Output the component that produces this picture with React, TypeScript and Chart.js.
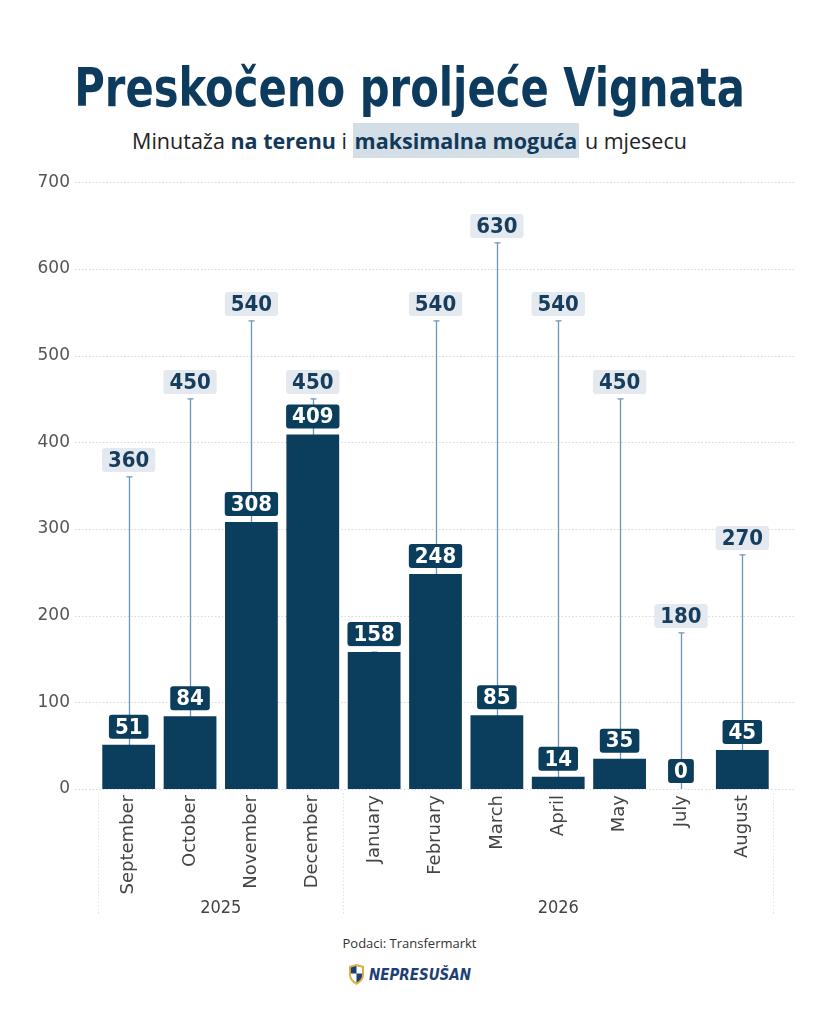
import React, { useEffect, useRef } from "react";
import { Chart, registerables } from "chart.js";

Chart.register(...registerables);

const months = ["September", "October", "November", "December", "January", "February", "March", "April", "May", "July", "August"];
const years = ["2025", "2025", "2025", "2025", "2026", "2026", "2026", "2026", "2026", "2026", "2026"];
const minutesPlayed = [51, 84, 308, 409, 158, 248, 85, 14, 35, 0, 45];
const maxMinutes = [360, 450, 540, 450, 158, 540, 630, 540, 450, 180, 270];
const yTicks = [0, 100, 200, 300, 400, 500, 600, 700];

const NAVY = "#0b3d5c";
const LINE = "#6b96b6";
const LIGHT = "#e3e9ee";
const DIN = "'DejaVu Sans', sans-serif";

function roundRect(ctx: CanvasRenderingContext2D, x: number, y: number, w: number, h: number, r: number) {
  ctx.beginPath();
  ctx.moveTo(x + r, y);
  ctx.lineTo(x + w - r, y);
  ctx.quadraticCurveTo(x + w, y, x + w, y + r);
  ctx.lineTo(x + w, y + h - r);
  ctx.quadraticCurveTo(x + w, y + h, x + w - r, y + h);
  ctx.lineTo(x + r, y + h);
  ctx.quadraticCurveTo(x, y + h, x, y + h - r);
  ctx.lineTo(x, y + r);
  ctx.quadraticCurveTo(x, y, x + r, y);
  ctx.closePath();
}

const decoPlugin = {
  id: "deco",
  beforeDatasetsDraw(chart: any) {
    const { ctx, chartArea, scales } = chart;
    const x = scales.x;
    const y = scales.y;
    ctx.save();
    ctx.strokeStyle = "#d9d9d9";
    ctx.lineWidth = 1;
    ctx.setLineDash([1.5, 2]);
    yTicks.forEach((t) => {
      const py = Math.round(y.getPixelForValue(t)) + 0.5;
      ctx.beginPath();
      ctx.moveTo(chartArea.left - 23, py);
      ctx.lineTo(chartArea.right + 22, py);
      ctx.stroke();
    });
    const seps: number[] = [chartArea.left];
    for (let i = 1; i < years.length; i++) {
      if (years[i] !== years[i - 1]) {
        seps.push((x.getPixelForValue(i - 1) + x.getPixelForValue(i)) / 2);
      }
    }
    seps.push(chartArea.right);
    ctx.strokeStyle = "#e2e2e2";
    seps.forEach((sx) => {
      const px = Math.round(sx) + 0.5;
      ctx.beginPath();
      ctx.moveTo(px, chartArea.bottom + 4);
      ctx.lineTo(px, chartArea.bottom + 126);
      ctx.stroke();
    });
    ctx.setLineDash([]);
    ctx.fillStyle = "#444";
    ctx.font = `18px ${DIN}`;
    (ctx as any).fontStretch = "condensed";
    ctx.textAlign = "center";
    ctx.textBaseline = "middle";
    let start = 0;
    for (let i = 1; i <= years.length; i++) {
      if (i === years.length || years[i] !== years[start]) {
        const left = start === 0 ? chartArea.left : (x.getPixelForValue(start - 1) + x.getPixelForValue(start)) / 2;
        const right = i === years.length ? chartArea.right : (x.getPixelForValue(i - 1) + x.getPixelForValue(i)) / 2;
        ctx.fillText(years[start], (left + right) / 2, chartArea.bottom + 119);
        start = i;
      }
    }
    ctx.strokeStyle = LINE;
    ctx.lineWidth = 1.3;
    maxMinutes.forEach((m, i) => {
      const px = Math.round(x.getPixelForValue(i)) + 0.5;
      const top = y.getPixelForValue(m);
      ctx.beginPath();
      ctx.moveTo(px, y.getPixelForValue(0));
      ctx.lineTo(px, top);
      ctx.moveTo(px - 3, top);
      ctx.lineTo(px + 3, top);
      ctx.stroke();
    });
    ctx.restore();
  },
  afterDatasetsDraw(chart: any) {
    const { ctx, scales } = chart;
    const x = scales.x;
    const y = scales.y;
    ctx.save();
    ctx.font = `bold 22px ${DIN}`;
    (ctx as any).fontStretch = "condensed";
    ctx.textAlign = "center";
    ctx.textBaseline = "middle";
    const h = 24;
    maxMinutes.forEach((m, i) => {
      const px = x.getPixelForValue(i);
      const top = y.getPixelForValue(m);
      const txt = String(m);
      const w = ctx.measureText(txt).width + 12;
      ctx.fillStyle = LIGHT;
      roundRect(ctx, px - w / 2, top - 5 - h, w, h, 3);
      ctx.fill();
      ctx.fillStyle = "#173d5e";
      ctx.fillText(txt, px, top - 5 - h / 2 + 1);
    });
    minutesPlayed.forEach((v, i) => {
      const px = x.getPixelForValue(i);
      const top = y.getPixelForValue(v);
      const txt = String(v);
      const w = ctx.measureText(txt).width + 12;
      ctx.fillStyle = NAVY;
      roundRect(ctx, px - w / 2, top - 6 - h, w, h, 3);
      ctx.fill();
      ctx.fillStyle = "#ffffff";
      ctx.fillText(txt, px, top - 6 - h / 2 + 1);
    });
    ctx.restore();
  },
};

function ChartCanvas() {
  const ref = useRef<HTMLCanvasElement>(null);
  useEffect(() => {
    if (!ref.current) return;
    const chart = new Chart(ref.current, {
      type: "bar",
      data: {
        labels: months,
        datasets: [
          {
            data: minutesPlayed,
            backgroundColor: NAVY,
            categoryPercentage: 0.86,
            barPercentage: 1,
          },
        ],
      },
      options: {
        responsive: false,
        animation: false,
        devicePixelRatio: 1,
        layout: { padding: { top: 17, right: 46, left: 0, bottom: 0 } },
        plugins: { legend: { display: false }, tooltip: { enabled: false } },
        scales: {
          y: {
            min: 0,
            max: 700,
            afterFit: (s: any) => {
              s.width = 98;
            },
            ticks: { stepSize: 100, color: "#555", font: { family: DIN, size: 17 }, padding: 28 },
            grid: { display: false, drawTicks: false },
            border: { display: false },
          },
          x: {
            afterFit: (s: any) => {
              s.height = 136;
            },
            ticks: { minRotation: 90, maxRotation: 90, color: "#444", font: { family: DIN, size: 18 }, padding: 6, autoSkip: false },
            grid: { display: false, drawTicks: false },
            border: { display: false },
          },
        },
      },
      plugins: [decoPlugin],
    });
    return () => chart.destroy();
  }, []);
  return <canvas ref={ref} width={819} height={781} style={{ position: "absolute", left: 0, top: 144, width: 819, height: 781 }} />;
}

export default function App() {
  useEffect(() => {
    document.body.style.margin = "0";
  }, []);
  return (
    <div style={{ position: "relative", width: 819, height: 1024, background: "#fff", overflow: "hidden" }}>
      <div
        style={{
          position: "absolute",
          top: 53,
          left: 0,
          width: 819,
          textAlign: "center",
          fontFamily: DIN,
          fontStretch: "condensed",
          fontWeight: "bold",
          fontSize: 53,
          color: "#0c3b5e",
          lineHeight: "70px",
          transform: "scaleX(0.875)",
          transformOrigin: "410px 0",
          whiteSpace: "nowrap",
        }}
      >
        Preskočeno proljeće Vignata
      </div>
      <div
        style={{
          position: "absolute",
          top: 124,
          left: 0,
          width: 819,
          textAlign: "center",
          fontFamily: "'Open Sans', sans-serif",
          fontSize: 21.5,
          color: "#222",
          lineHeight: "34px",
        }}
      >
        Minutaža <b style={{ color: "#12385a" }}>na terenu</b> i{" "}
        <b style={{ color: "#12385a", background: "#d3dee6", padding: "3px 2px" }}>maksimalna moguća</b> u mjesecu
      </div>
      <ChartCanvas />
      <div
        style={{
          position: "absolute",
          top: 934,
          left: 0,
          width: 819,
          textAlign: "center",
          fontFamily: "'Open Sans', sans-serif",
          fontSize: 13,
          color: "#333",
        }}
      >
        Podaci: Transfermarkt
      </div>
      <div
        style={{
          position: "absolute",
          top: 964,
          left: 0,
          width: 819,
          display: "flex",
          justifyContent: "center",
          alignItems: "center",
          gap: 4,
        }}
      >
        <svg width="17" height="21" viewBox="0 0 18 22">
          <path d="M1 2 L9 0 L17 2 L17 11 Q17 18 9 22 Q1 18 1 11 Z" fill="#e3b23c" />
          <path d="M3 3.5 L9 2 L15 3.5 L15 11 Q15 16.5 9 19.5 Q3 16.5 3 11 Z" fill="#1d3f73" />
          <path d="M9 2 L15 3.5 L15 10 L9 10 Z" fill="#ffffff" />
          <path d="M3 10 L9 10 L9 19.5 Q3 16.5 3 11 Z" fill="#ffffff" />
        </svg>
        <span
          style={{
            fontFamily: "'DejaVu Sans', sans-serif",
            fontStretch: "condensed",
            fontWeight: "bold",
            fontStyle: "italic",
            fontSize: 15,
            color: "#1d3f73",
          }}
        >
          NEPRESUŠAN
        </span>
      </div>
    </div>
  );
}
